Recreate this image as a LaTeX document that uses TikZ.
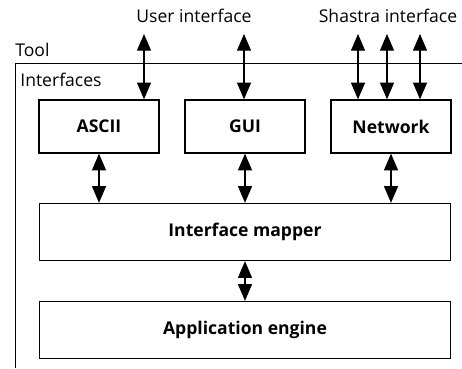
\documentclass[tikz,border=0pt]{standalone}
\usepackage{fontspec}
\setmainfont{Open Sans}
\usetikzlibrary{arrows.meta}

\tikzset{
  unitbox/.style={draw,line width=0.8pt,minimum width=2.4cm,minimum height=1.06cm,font=\bfseries},
  widebox/.style={unitbox,minimum width=8.22cm,minimum height=1.14cm},
  dbl/.style={{Triangle[length=9.5pt,width=8pt]}-{Triangle[length=9.5pt,width=8pt]},line width=0.6pt},
  lbl/.style={font=\normalsize,inner sep=0pt}
}

\begin{document}
\begin{tikzpicture}[x=0.02cm,y=-0.02cm]
\useasboundingbox (0,0) rectangle (462,368);

% tool frame
\draw[line width=0.5pt] (15,368) |- (462,63);
\node[lbl,anchor=west] (tool) at (15,50) {Tool};
\node[lbl,anchor=west] (ifs) at (20,80) {Interfaces};

% boxes
\node[unitbox] (ascii) at (99,126.5) {ASCII};
\node[unitbox] (gui) at (245,126.5) {GUI};
\node[unitbox] (net) at (391,126.5) {Network};
\node[widebox] (mapper) at (245,232) {Interface mapper};
\node[widebox] (engine) at (245,330) {Application engine};

% outside ends
\coordinate (u1) at (144,34);
\coordinate (u2) at (244,34);
\coordinate (s1) at (358,34);
\coordinate (s2) at (387,34);
\coordinate (s3) at (420,34);
\node[lbl] (user) at (194,16) {User interface};
\node[lbl] (shastra) at (388,16) {Shastra interface};

\draw[dbl] (u1) -- (u1 |- ascii.north);
\draw[dbl] (u2) -- (u2 |- gui.north);
\foreach \s in {s1,s2,s3}
  \draw[dbl] (\s) -- (\s |- net.north);

\draw[dbl] (ascii.south) -- (ascii.south |- mapper.north);
\draw[dbl] (gui.south) -- (gui.south |- mapper.north);
\draw[dbl] (net.south) -- (net.south |- mapper.north);
\draw[dbl] (mapper.south) -- (engine.north);

\end{tikzpicture}
\end{document}
